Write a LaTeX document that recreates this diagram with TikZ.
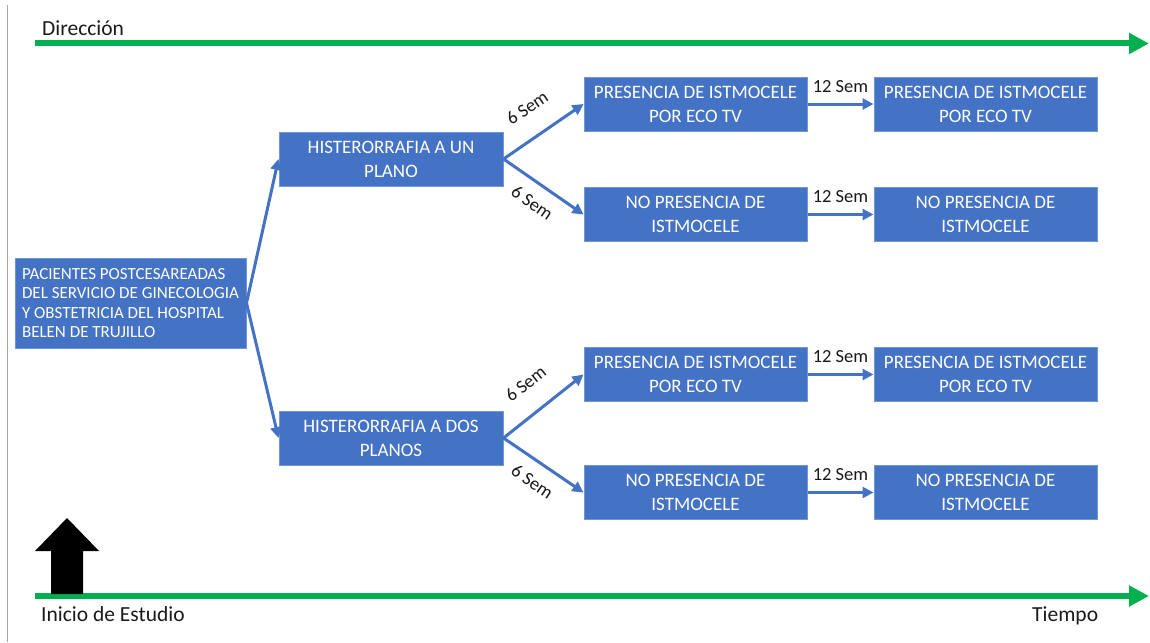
\documentclass[tikz,border=0pt]{standalone}
\usepackage{fontspec}
\setmainfont{Carlito}
\usetikzlibrary{arrows.meta}
\definecolor{boxblue}{HTML}{4472C4}
\definecolor{boxedge}{HTML}{7097DA}
\definecolor{arrowgreen}{HTML}{00B050}
\definecolor{txt}{HTML}{1A1A1A}
\definecolor{sideline}{HTML}{A6A6A6}
\begin{document}
\begin{tikzpicture}[x=1pt,y=-1pt,
  bluebox/.style={fill=boxblue, draw=boxedge, line width=1pt, text=white,
    font=\fontsize{19}{24}\selectfont, align=center,
    minimum width=223pt, minimum height=54pt, inner sep=0pt},
  link/.style={draw=boxblue, line width=3pt, -{Triangle[length=11pt,width=11pt]}},
  semlabel/.style={font=\fontsize{18.5}{20}\selectfont, text=txt, inner sep=2pt},
  timeline/.style={draw=arrowgreen, line width=6pt, -{Triangle[length=20pt,width=20pt]}},
  caption/.style={font=\fontsize{21.5}{24}\selectfont, text=txt, inner sep=0pt, anchor=base west}
]
\useasboundingbox (0,0) rectangle (1150,642);
\fill[white] (0,0) rectangle (1150,642);

% side line
\draw[sideline, line width=1.2pt] (7.5,5) -- (7.5,642);

% time lines
\coordinate (t1s) at (35,43.5);
\coordinate (t1e) at (1149,43.5);
\coordinate (t2s) at (35,596);
\coordinate (t2e) at (1149,596);
\draw[timeline] (t1s) -- (t1e);
\draw[timeline] (t2s) -- (t2e);

\node[caption] (dir) at (42,36) {Dirección};
\node[caption] (ini) at (41,621) {Inicio de Estudio};
\node[caption] (tie) at (1032,621) {Tiempo};

% black start arrow
\fill[black] (51,594) -- (83,594) -- (83,551) -- (99,551) -- (67,518) -- (35,551) -- (51,551) -- cycle;

% boxes
\node[bluebox, minimum width=231pt, minimum height=90pt, align=left,
      font=\fontsize{17}{19.5}\selectfont] (main) at (130.5,303)
  {PACIENTES POSTCESAREADAS\\DEL SERVICIO DE GINECOLOGIA\\Y OBSTETRICIA DEL HOSPITAL\\BELEN DE TRUJILLO};
\node[bluebox, minimum width=224pt] (h1) at (391,159) {HISTERORRAFIA A UN\\PLANO};
\node[bluebox, minimum width=224pt] (h2) at (391,438) {HISTERORRAFIA A DOS\\PLANOS};

\node[bluebox] (p1) at (695.5,104) {PRESENCIA DE ISTMOCELE\\POR ECO TV};
\node[bluebox] (n1) at (695.5,214.5) {NO PRESENCIA DE\\ISTMOCELE};
\node[bluebox] (p2) at (695.5,374.5) {PRESENCIA DE ISTMOCELE\\POR ECO TV};
\node[bluebox] (n2) at (695.5,492.5) {NO PRESENCIA DE\\ISTMOCELE};

\node[bluebox] (r1) at (985.5,104) {PRESENCIA DE ISTMOCELE\\POR ECO TV};
\node[bluebox] (r2) at (985.5,214.5) {NO PRESENCIA DE\\ISTMOCELE};
\node[bluebox] (r3) at (985.5,374.5) {PRESENCIA DE ISTMOCELE\\POR ECO TV};
\node[bluebox] (r4) at (985.5,492.5) {NO PRESENCIA DE\\ISTMOCELE};

% connectors
\draw[link] (main.east) -- (h1.west);
\draw[link] (main.east) -- (h2.west);

\draw[link] (h1.east) -- node[semlabel, sloped, above=19pt, pos=0.5] {6 Sem} (p1.west);
\draw[link] (h1.east) -- node[semlabel, sloped, below=10pt, pos=0.5] {6 Sem} (n1.west);
\draw[link] (h2.east) -- node[semlabel, sloped, above=19pt, pos=0.5] {6 Sem} (p2.west);
\draw[link] (h2.east) -- node[semlabel, sloped, below=10pt, pos=0.5] {6 Sem} (n2.west);

\draw[link] (p1.east) -- node[semlabel, above=8pt] {12 Sem} (r1.west);
\draw[link] (n1.east) -- node[semlabel, above=8pt] {12 Sem} (r2.west);
\draw[link] (p2.east) -- node[semlabel, above=8pt] {12 Sem} (r3.west);
\draw[link] (n2.east) -- node[semlabel, above=8pt] {12 Sem} (r4.west);
\end{tikzpicture}
\end{document}
